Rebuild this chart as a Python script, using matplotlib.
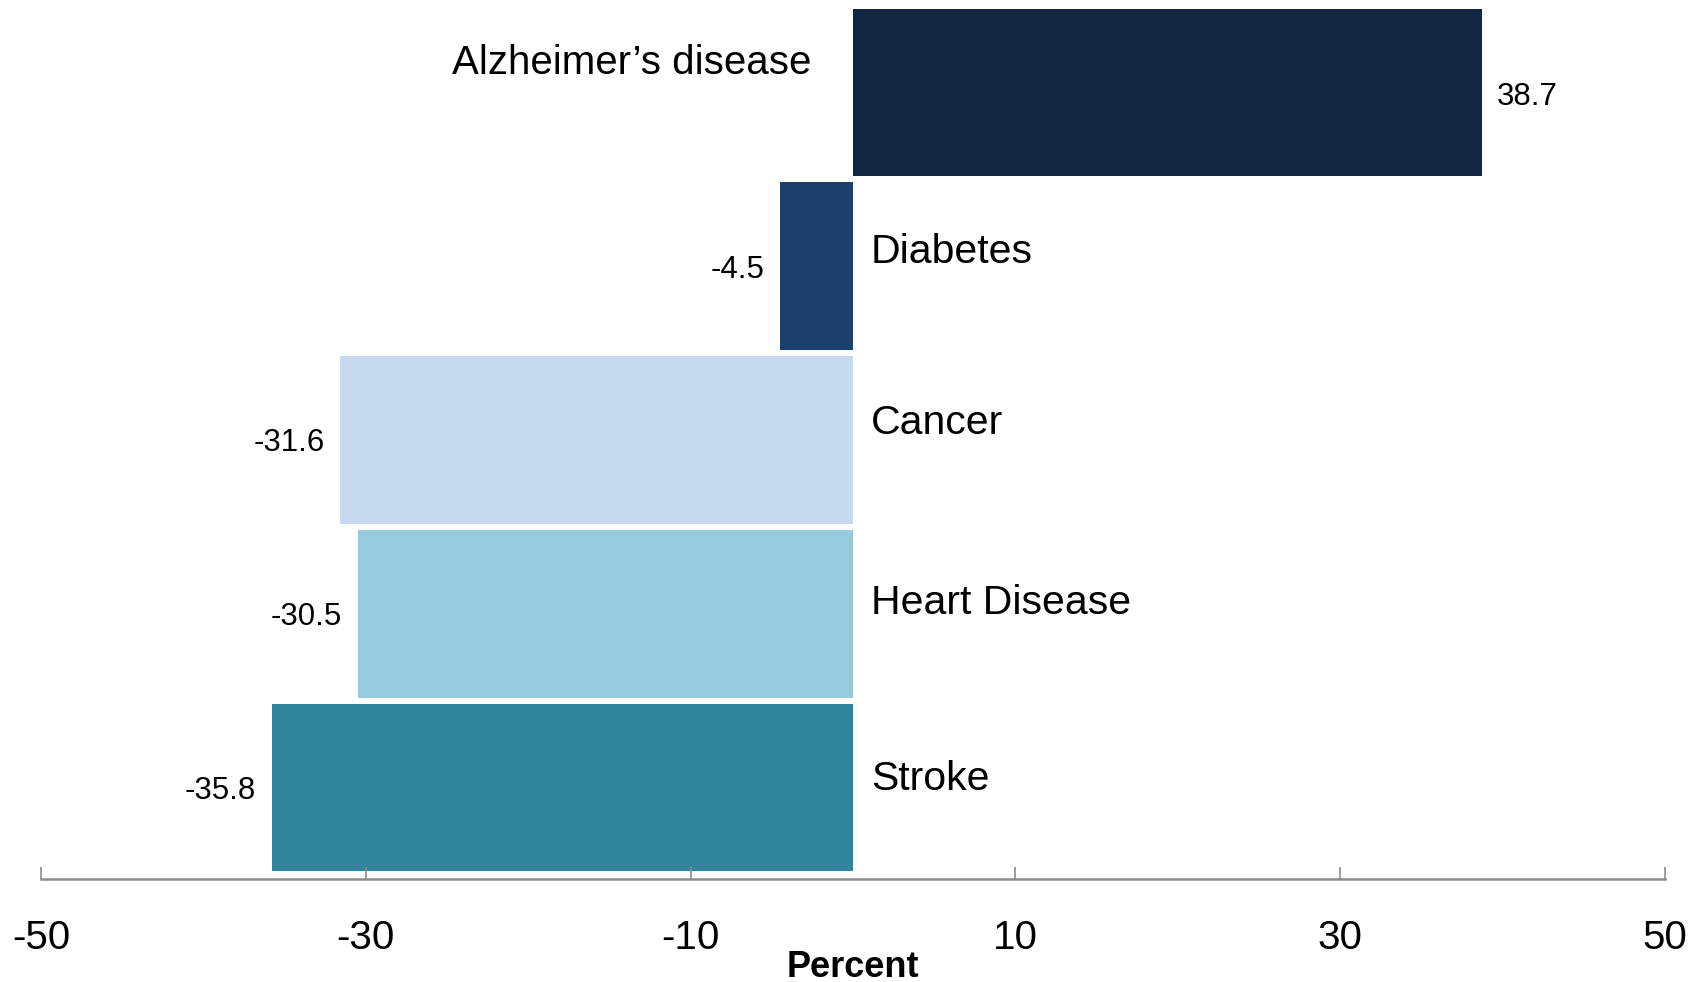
import matplotlib.pyplot as plt

# percent change in deaths, 2000 to 2008
causes = ["Stroke", "Heart Disease", "Cancer", "Diabetes", "Alzheimer\u2019s disease"]
change = [-35.8, -30.5, -31.6, -4.5, 38.7]
value_text = ["-35.8", "-30.5", "-31.6", "-4.5", "38.7"]
colors = ["#30859c", "#95cbdc", "#c6d9ef", "#1c3f6e", "#132641"]
ticks = [-50, -30, -10, 10, 30, 50]

plt.rcParams["font.family"] = ["Liberation Sans", "DejaVu Sans"]

fig = plt.figure(figsize=(17.06, 9.82), dpi=100)
ax = fig.add_axes([0.024, 0.105, 0.952, 0.895])

ypos = list(range(len(causes)))
ax.barh(ypos, change, height=0.965, color=colors)

# vertical nudge (points) for the category names
name_dy = [6, 8, 12, 10, 21]

for y, v, txt, name, dy in zip(ypos, change, value_text, causes, name_dy):
    if v >= 0:
        ax.annotate(txt, (v, y), xytext=(11, -3), textcoords="offset points",
                    ha="left", va="center", fontsize=22.5)
        ax.annotate(name, (0, y), xytext=(-30, dy), textcoords="offset points",
                    ha="right", va="center", fontsize=29)
    else:
        ax.annotate(txt, (v, y), xytext=(-11, -2.5), textcoords="offset points",
                    ha="right", va="center", fontsize=22.5)
        ax.annotate(name, (0, y), xytext=(13, dy), textcoords="offset points",
                    ha="left", va="center", fontsize=29.5)

ax.set_xlim(-50, 50)
ax.set_ylim(-0.526, len(causes) - 1 + 0.532)
ax.set_xticks(ticks)
ax.set_xticklabels([str(t) for t in ticks])
ax.set_yticks([])
ax.tick_params(axis="x", direction="in", length=9, width=1.2, color="#8c8c8c",
               labelsize=29, pad=29)
for side in ["top", "right", "left"]:
    ax.spines[side].set_visible(False)
ax.spines["bottom"].set_color("#8c8c8c")
ax.spines["bottom"].set_linewidth(1.8)

ax.set_xlabel("Percent", fontsize=26, fontweight="bold", labelpad=-5)

fig.savefig("out.png", dpi=100)
